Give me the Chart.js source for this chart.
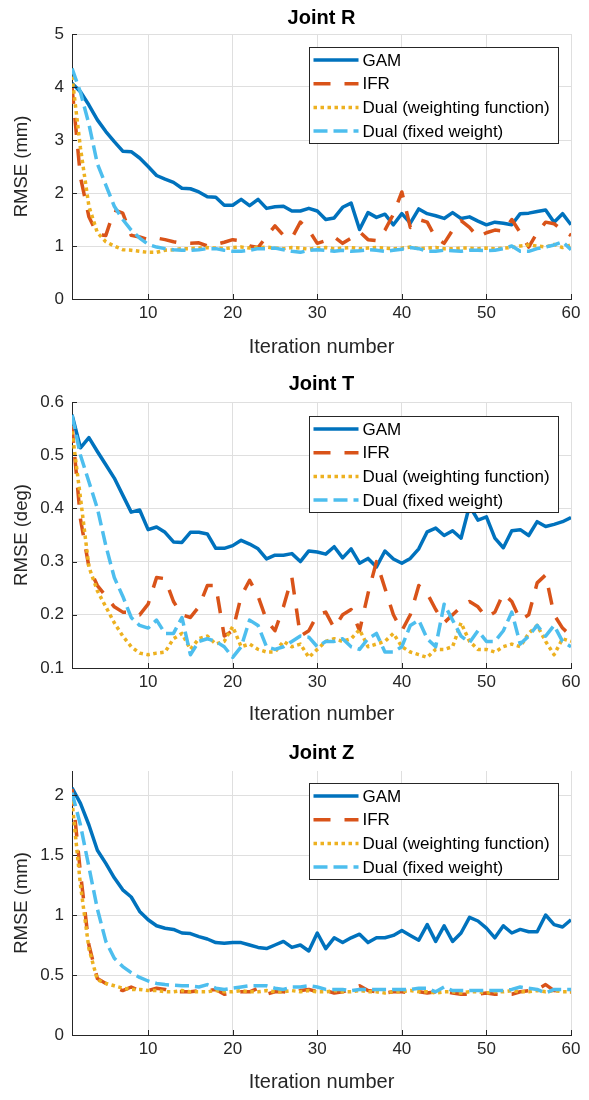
<!DOCTYPE html>
<html>
<head>
<meta charset="utf-8">
<title>RMSE vs iteration</title>
<script src="https://cdn.jsdelivr.net/npm/chart.js@4.4.1/dist/chart.umd.min.js"></script>
<style>
  html, body { margin: 0; padding: 0; background: #fff; }
  #wrap { position: relative; width: 589px; height: 1100px; }
  canvas { position: absolute; left: 0; }
</style>
</head>
<body>
<div id="wrap">
  <canvas id="chartR" width="589" height="367" style="top:0"></canvas>
  <canvas id="chartT" width="589" height="367" style="top:367px"></canvas>
  <canvas id="chartZ" width="589" height="366" style="top:734px"></canvas>
</div>
<script>
// ─── Data ─────────────────────────────────────────────────────────────────────
const iterations = [1, 2, 3, 4, 5, 6, 7, 8, 9, 10, 11, 12, 13, 14, 15, 16, 17, 18, 19, 20,
  21, 22, 23, 24, 25, 26, 27, 28, 29, 30, 31, 32, 33, 34, 35, 36, 37, 38, 39, 40,
  41, 42, 43, 44, 45, 46, 47, 48, 49, 50, 51, 52, 53, 54, 55, 56, 57, 58, 59, 60];
const xTicks = [10, 20, 30, 40, 50, 60];
const seriesNames = ['GAM', 'IFR', 'Dual (weighting function)', 'Dual (fixed weight)'];

// Joint R (mm)
const gamR = [4.07, 3.91, 3.66, 3.38, 3.16, 2.97, 2.79, 2.78, 2.66, 2.50, 2.33, 2.26, 2.20, 2.09, 2.08, 2.02, 1.93, 1.92, 1.77, 1.77,
  1.88, 1.76, 1.88, 1.71, 1.74, 1.75, 1.66, 1.66, 1.71, 1.66, 1.50, 1.53, 1.73, 1.81, 1.31, 1.63, 1.54, 1.60, 1.40, 1.61,
  1.43, 1.70, 1.61, 1.57, 1.52, 1.63, 1.52, 1.55, 1.47, 1.40, 1.45, 1.43, 1.40, 1.61, 1.62, 1.65, 1.68, 1.45, 1.61, 1.40];
const ifrR = [4.00, 2.30, 1.55, 1.22, 1.20, 1.68, 1.62, 1.20, 1.17, 1.12, 1.15, 1.12, 1.08, 1.05, 1.05, 1.06, 1.00, 1.03, 1.07, 1.12,
  1.10, 1.00, 0.97, 1.18, 1.38, 1.20, 1.15, 1.45, 1.30, 1.05, 1.10, 1.17, 1.05, 1.15, 1.27, 1.12, 1.10, 1.30, 1.60, 2.02,
  1.35, 1.50, 1.45, 1.15, 1.05, 1.30, 1.48, 1.35, 1.17, 1.25, 1.30, 1.28, 1.50, 1.25, 0.98, 1.25, 1.45, 1.42, 1.30, 1.20];
const dualWR = [4.20, 2.85, 1.75, 1.25, 1.08, 1.00, 0.93, 0.92, 0.90, 0.88, 0.88, 0.92, 0.93, 0.95, 0.95, 0.96, 0.97, 0.96, 0.95, 0.97,
  0.98, 0.96, 0.97, 0.98, 0.96, 0.95, 0.97, 0.96, 0.94, 0.96, 0.97, 0.95, 0.96, 0.97, 0.95, 0.96, 0.97, 0.96, 0.95, 0.96,
  0.98, 0.95, 0.96, 0.97, 0.95, 0.95, 0.96, 0.96, 0.95, 0.96, 0.95, 0.96, 0.97, 1.00, 1.02, 1.00, 0.98, 1.03, 0.97, 1.02];
const dualFR = [4.35, 3.90, 3.30, 2.55, 2.15, 1.75, 1.50, 1.30, 1.15, 1.03, 0.98, 0.95, 0.93, 0.92, 0.92, 0.93, 0.95, 0.95, 0.92, 0.90,
  0.90, 0.92, 0.95, 0.95, 0.96, 0.93, 0.90, 0.88, 0.92, 0.93, 0.92, 0.90, 0.92, 0.90, 0.91, 0.93, 0.92, 0.90, 0.92, 0.94,
  0.97, 0.95, 0.90, 0.90, 0.92, 0.91, 0.90, 0.92, 0.92, 0.91, 0.92, 0.95, 1.00, 0.90, 0.90, 0.95, 0.98, 1.02, 1.08, 0.93];
const yTicksR = [0, 1, 2, 3, 4, 5];

// Joint T (deg)
const gamT = [0.576, 0.514, 0.533, 0.507, 0.482, 0.457, 0.425, 0.393, 0.397, 0.360, 0.365, 0.355, 0.337, 0.336, 0.355, 0.355, 0.352, 0.325, 0.325, 0.330,
  0.340, 0.333, 0.324, 0.305, 0.312, 0.312, 0.315, 0.300, 0.320, 0.318, 0.314, 0.328, 0.307, 0.324, 0.297, 0.306, 0.290, 0.320, 0.305, 0.297,
  0.306, 0.324, 0.356, 0.363, 0.349, 0.358, 0.344, 0.405, 0.378, 0.384, 0.344, 0.326, 0.358, 0.360, 0.349, 0.375, 0.366, 0.370, 0.375, 0.383];
const ifrT = [0.555, 0.380, 0.290, 0.255, 0.235, 0.215, 0.205, 0.205, 0.200, 0.220, 0.270, 0.268, 0.225, 0.200, 0.195, 0.215, 0.255, 0.255, 0.160, 0.170,
  0.235, 0.265, 0.235, 0.190, 0.170, 0.215, 0.270, 0.160, 0.170, 0.200, 0.205, 0.175, 0.200, 0.210, 0.170, 0.240, 0.300, 0.250, 0.200, 0.170,
  0.200, 0.255, 0.240, 0.210, 0.185, 0.200, 0.215, 0.225, 0.215, 0.195, 0.205, 0.240, 0.225, 0.190, 0.200, 0.260, 0.275, 0.200, 0.175, 0.160];
const dualWT = [0.545, 0.420, 0.290, 0.245, 0.215, 0.185, 0.160, 0.140, 0.128, 0.125, 0.128, 0.130, 0.155, 0.165, 0.135, 0.155, 0.160, 0.145, 0.150, 0.178,
  0.140, 0.145, 0.135, 0.130, 0.130, 0.150, 0.140, 0.145, 0.120, 0.135, 0.150, 0.155, 0.150, 0.155, 0.172, 0.140, 0.145, 0.150, 0.165, 0.140,
  0.130, 0.125, 0.120, 0.135, 0.135, 0.140, 0.185, 0.150, 0.135, 0.135, 0.130, 0.140, 0.145, 0.140, 0.165, 0.180, 0.150, 0.125, 0.155, 0.150];
const dualFT = [0.575, 0.500, 0.450, 0.400, 0.330, 0.270, 0.235, 0.195, 0.180, 0.175, 0.190, 0.165, 0.165, 0.195, 0.125, 0.150, 0.155, 0.150, 0.140, 0.120,
  0.140, 0.190, 0.180, 0.140, 0.135, 0.140, 0.150, 0.160, 0.158, 0.140, 0.150, 0.150, 0.155, 0.140, 0.135, 0.155, 0.165, 0.130, 0.130, 0.140,
  0.180, 0.190, 0.155, 0.140, 0.220, 0.190, 0.160, 0.148, 0.170, 0.150, 0.150, 0.170, 0.205, 0.145, 0.160, 0.180, 0.160, 0.180, 0.150, 0.140];
const yTicksT = [0.1, 0.2, 0.3, 0.4, 0.5, 0.6];

// Joint Z (mm)
const gamZ = [2.06, 1.93, 1.75, 1.54, 1.43, 1.31, 1.21, 1.15, 1.03, 0.96, 0.91, 0.89, 0.88, 0.85, 0.845, 0.82, 0.80, 0.77, 0.765, 0.77,
  0.77, 0.75, 0.73, 0.72, 0.75, 0.78, 0.73, 0.75, 0.70, 0.85, 0.72, 0.81, 0.77, 0.81, 0.84, 0.77, 0.81, 0.81, 0.83, 0.87,
  0.83, 0.79, 0.92, 0.78, 0.91, 0.78, 0.85, 0.98, 0.95, 0.89, 0.81, 0.91, 0.85, 0.88, 0.86, 0.86, 1.00, 0.92, 0.90, 0.96];
const ifrZ = [2.05, 1.35, 0.75, 0.47, 0.43, 0.40, 0.37, 0.40, 0.37, 0.37, 0.39, 0.38, 0.36, 0.36, 0.36, 0.37, 0.37, 0.38, 0.34, 0.35,
  0.36, 0.36, 0.39, 0.34, 0.36, 0.36, 0.35, 0.37, 0.38, 0.36, 0.37, 0.35, 0.36, 0.38, 0.41, 0.37, 0.36, 0.35, 0.36, 0.36,
  0.35, 0.36, 0.35, 0.36, 0.36, 0.35, 0.34, 0.34, 0.34, 0.35, 0.34, 0.34, 0.34, 0.36, 0.37, 0.38, 0.42, 0.37, 0.36, 0.36];
const dualWZ = [1.95, 1.25, 0.72, 0.46, 0.43, 0.41, 0.39, 0.38, 0.38, 0.37, 0.37, 0.36, 0.36, 0.37, 0.36, 0.36, 0.36, 0.37, 0.36, 0.36,
  0.37, 0.36, 0.36, 0.37, 0.36, 0.36, 0.37, 0.36, 0.37, 0.36, 0.36, 0.37, 0.36, 0.36, 0.37, 0.36, 0.36, 0.35, 0.36, 0.36,
  0.37, 0.36, 0.36, 0.35, 0.36, 0.36, 0.35, 0.36, 0.36, 0.35, 0.36, 0.36, 0.37, 0.36, 0.36, 0.37, 0.36, 0.37, 0.36, 0.36];
const dualFZ = [2.02, 1.75, 1.40, 1.05, 0.78, 0.64, 0.57, 0.52, 0.48, 0.45, 0.43, 0.42, 0.415, 0.41, 0.41, 0.40, 0.42, 0.39, 0.38, 0.39,
  0.40, 0.41, 0.41, 0.41, 0.39, 0.38, 0.40, 0.40, 0.41, 0.40, 0.38, 0.38, 0.38, 0.37, 0.38, 0.38, 0.38, 0.38, 0.38, 0.38,
  0.38, 0.39, 0.39, 0.36, 0.40, 0.37, 0.37, 0.37, 0.37, 0.37, 0.37, 0.37, 0.38, 0.40, 0.39, 0.38, 0.35, 0.38, 0.38, 0.38];
const yTicksZ = [0, 0.5, 1, 1.5, 2];

// ─── Styles ───────────────────────────────────────────────────────────────────
const FONT = '"Liberation Sans", Arial, Helvetica, sans-serif';
const AXIS = '#262626';
const GRID = '#dfdfdf';
const lineStyles = [
  { color: '#0072BD', width: 3.5, dash: [] },
  { color: '#D95319', width: 3.5, dash: [17, 14] },
  { color: '#EDB120', width: 3.5, dash: [3.5, 3.5] },
  { color: '#4DBEEE', width: 3.5, dash: [14, 6] }
];

function toPoints(values) {
  return iterations.map((x, i) => ({ x, y: values[i] }));
}

// ─── Axes title, centred over the plot box ────────────────────────────────────
const axesTitle = {
  id: 'axesTitle',
  afterDraw(chart, args, opts) {
    const { ctx, chartArea: a } = chart;
    ctx.save();
    ctx.font = 'bold 20px ' + FONT;
    ctx.fillStyle = '#000';
    ctx.textAlign = 'center';
    ctx.textBaseline = 'middle';
    ctx.fillText(opts.text, (a.left + a.right) / 2, opts.y);
    ctx.restore();
  }
};

// ─── Inward tick marks (MATLAB style) ─────────────────────────────────────────
const innerTicks = {
  id: 'innerTicks',
  afterDraw(chart) {
    const { ctx, chartArea: a, scales: { x, y } } = chart;
    ctx.save();
    ctx.strokeStyle = AXIS;
    ctx.lineWidth = 1;
    ctx.beginPath();
    x.ticks.forEach(t => {
      const px = Math.round(x.getPixelForValue(t.value)) + 0.5;
      ctx.moveTo(px, a.bottom);
      ctx.lineTo(px, a.bottom - 5);
    });
    y.ticks.forEach(t => {
      const py = Math.round(y.getPixelForValue(t.value)) + 0.5;
      ctx.moveTo(a.left, py);
      ctx.lineTo(a.left + 5, py);
    });
    ctx.stroke();
    ctx.restore();
  }
};

// ─── Boxed legend inside the axes ─────────────────────────────────────────────
const boxLegend = {
  id: 'boxLegend',
  afterDraw(chart, args, opts) {
    const { ctx, chartArea: a } = chart;
    const left = 309.5, right = 558.5;
    const top = Math.round(a.top + opts.offsetTop) + 0.5;
    const h = 96;
    ctx.save();
    ctx.fillStyle = '#fff';
    ctx.fillRect(left, top, right - left, h);
    ctx.strokeStyle = AXIS;
    ctx.lineWidth = 1;
    ctx.strokeRect(left, top, right - left, h);
    ctx.font = '17px ' + FONT;
    ctx.textBaseline = 'middle';
    seriesNames.forEach((name, k) => {
      const st = lineStyles[k];
      const cy = top + 12.5 + k * 23.7;
      ctx.beginPath();
      ctx.setLineDash(st.dash);
      ctx.strokeStyle = st.color;
      ctx.lineWidth = st.width;
      ctx.moveTo(left + 4, cy);
      ctx.lineTo(left + 49, cy);
      ctx.stroke();
      ctx.setLineDash([]);
      ctx.fillStyle = '#000';
      ctx.fillText(name, left + 53, cy + 1);
    });
    ctx.restore();
  }
};

// ─── Chart Builder ────────────────────────────────────────────────────────────
function buildChart(id, p) {
  const canvas = document.getElementById(id);
  const series = [p.gam, p.ifr, p.dualW, p.dualF];
  const datasets = series.map((vals, k) => ({
    label: seriesNames[k],
    data: toPoints(vals),
    borderColor: lineStyles[k].color,
    borderWidth: lineStyles[k].width,
    borderDash: lineStyles[k].dash,
    borderCapStyle: 'butt',
    borderJoinStyle: 'round',
    fill: false,
    order: 4 - k
  }));
  const tickFont = { family: FONT, size: 17 };
  return new Chart(canvas, {
    type: 'line',
    data: { datasets },
    options: {
      responsive: false,
      animation: false,
      events: [],
      layout: { padding: { left: 0, right: 18, top: p.areaTop, bottom: 0 } },
      elements: { point: { radius: 0 }, line: { tension: 0 } },
      plugins: {
        legend: { display: false },
        tooltip: { enabled: false },
        title: { display: false },
        axesTitle: { text: p.title, y: p.titleY },
        boxLegend: { offsetTop: p.legendTop }
      },
      scales: {
        x: {
          type: 'linear', min: 1, max: 60,
          afterBuildTicks: s => { s.ticks = xTicks.map(v => ({ value: v })); },
          afterFit: s => { s.height = canvas.height - p.areaBottom; },
          grid: { color: GRID, drawTicks: false },
          border: { color: AXIS },
          ticks: { padding: 4, color: AXIS, font: tickFont, maxRotation: 0 },
          title: {
            display: true, text: 'Iteration number', color: AXIS,
            font: { family: FONT, size: 20 }, padding: { top: 0, bottom: p.xTitlePad }
          }
        },
        y: {
          type: 'linear', min: p.yMin, max: p.yMax,
          afterBuildTicks: s => { s.ticks = p.yTicks.map(v => ({ value: v })); },
          afterFit: s => { s.width = 72; },
          grid: { color: GRID, drawTicks: false },
          border: { color: AXIS },
          ticks: { padding: 8, color: AXIS, font: tickFont, callback: v => String(+v.toFixed(2)) },
          title: {
            display: true, text: p.yLabel, color: AXIS,
            font: { family: FONT, size: 18.5 }, padding: { top: 11, bottom: 0 }
          }
        }
      }
    },
    plugins: [innerTicks, axesTitle, boxLegend]
  });
}

buildChart('chartR', {
  title: 'Joint R', yLabel: 'RMSE (mm)', gam: gamR, ifr: ifrR, dualW: dualWR, dualF: dualFR,
  yMin: 0, yMax: 5, yTicks: yTicksR, titleY: 18, areaTop: 34, areaBottom: 299, xTitlePad: 8, legendTop: 13
});
buildChart('chartT', {
  title: 'Joint T', yLabel: 'RMSE (deg)', gam: gamT, ifr: ifrT, dualW: dualWT, dualF: dualFT,
  yMin: 0.1, yMax: 0.6, yTicks: yTicksT, titleY: 17, areaTop: 35, areaBottom: 301, xTitlePad: 8, legendTop: 14
});
buildChart('chartZ', {
  title: 'Joint Z', yLabel: 'RMSE (mm)', gam: gamZ, ifr: ifrZ, dualW: dualWZ, dualF: dualFZ,
  yMin: 0, yMax: 2.2, yTicks: yTicksZ, titleY: 19, areaTop: 37, areaBottom: 301, xTitlePad: 6, legendTop: 12
});
</script>
</body>
</html>
